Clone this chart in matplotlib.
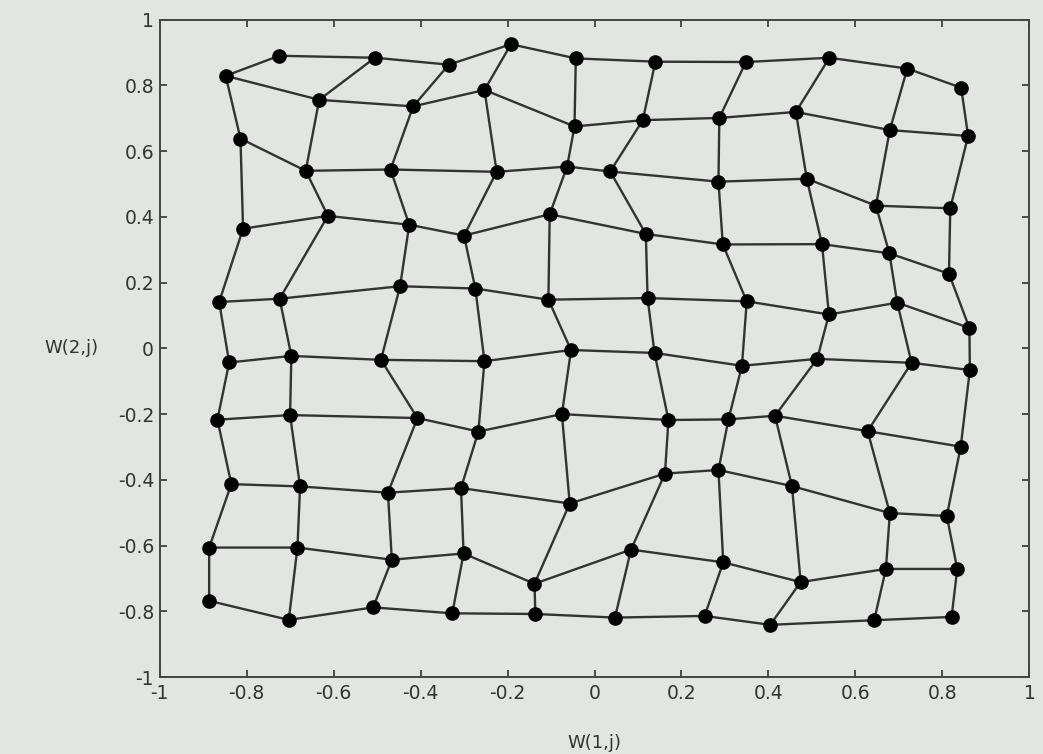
import numpy as np
import matplotlib
matplotlib.use('Agg')
import matplotlib.pyplot as plt
from matplotlib.ticker import FuncFormatter

plt.rcParams['axes.unicode_minus'] = False
plt.rcParams['font.family'] = 'DejaVu Sans'

# 10x10 SOM weight positions, one row of neurons per list
w1 = [
    [-0.725, -0.505, -0.335, -0.192, -0.043, 0.140, 0.348, 0.540, 0.719, 0.843],
    [-0.848, -0.633, -0.417, -0.253, -0.046, 0.111, 0.287, 0.463, 0.679, 0.859],
    [-0.814, -0.664, -0.469, -0.225, -0.063, 0.036, 0.285, 0.488, 0.647, 0.818],
    [-0.808, -0.613, -0.426, -0.300, -0.103, 0.118, 0.295, 0.523, 0.678, 0.815],
    [-0.863, -0.724, -0.447, -0.274, -0.106, 0.122, 0.350, 0.539, 0.696, 0.862],
    [-0.840, -0.697, -0.491, -0.253, -0.054, 0.138, 0.339, 0.512, 0.729, 0.863],
    [-0.867, -0.700, -0.407, -0.267, -0.075, 0.170, 0.308, 0.415, 0.628, 0.842],
    [-0.835, -0.677, -0.475, -0.307, -0.057, 0.162, 0.285, 0.454, 0.679, 0.810],
    [-0.886, -0.683, -0.466, -0.301, -0.138, 0.084, 0.296, 0.474, 0.670, 0.834],
    [-0.886, -0.703, -0.509, -0.327, -0.136, 0.047, 0.253, 0.404, 0.643, 0.821],
]
w2 = [
    [0.890, 0.884, 0.863, 0.925, 0.882, 0.872, 0.871, 0.884, 0.851, 0.793],
    [0.829, 0.756, 0.736, 0.786, 0.675, 0.694, 0.701, 0.719, 0.664, 0.646],
    [0.638, 0.540, 0.544, 0.537, 0.553, 0.538, 0.507, 0.516, 0.434, 0.426],
    [0.364, 0.403, 0.376, 0.343, 0.408, 0.348, 0.316, 0.317, 0.289, 0.227],
    [0.141, 0.151, 0.189, 0.182, 0.148, 0.153, 0.143, 0.103, 0.139, 0.062],
    [-0.043, -0.023, -0.035, -0.039, -0.005, -0.014, -0.053, -0.032, -0.044, -0.066],
    [-0.217, -0.203, -0.212, -0.253, -0.200, -0.218, -0.216, -0.205, -0.252, -0.299],
    [-0.413, -0.420, -0.439, -0.425, -0.472, -0.381, -0.370, -0.419, -0.501, -0.510],
    [-0.606, -0.606, -0.643, -0.624, -0.716, -0.612, -0.651, -0.711, -0.671, -0.671],
    [-0.768, -0.826, -0.788, -0.806, -0.808, -0.819, -0.814, -0.841, -0.827, -0.817],
]
ticks = [-1, -0.8, -0.6, -0.4, -0.2, 0, 0.2, 0.4, 0.6, 0.8, 1]

W1 = np.array(w1)
W2 = np.array(w2)

paper = '#e2e5e1'
fig = plt.figure(figsize=(10.43, 7.54), dpi=100, facecolor=paper)
ax = fig.add_axes([0.153, 0.102, 0.834, 0.872], facecolor=paper)

# grid links: along rows, then along columns
for i in range(W1.shape[0]):
    ax.plot(W1[i, :], W2[i, :], color='#333333', lw=1.7, zorder=2)
for j in range(W1.shape[1]):
    ax.plot(W1[:, j], W2[:, j], color='#333333', lw=1.7, zorder=2)
ax.plot(W1.ravel(), W2.ravel(), 'o', color='black', ms=9.5, zorder=3)

ax.set_xlim(-1, 1)
ax.set_ylim(-1, 1)
ax.set_xticks(ticks)
ax.set_yticks(ticks)
fmt = FuncFormatter(lambda v, p: '%g' % round(v, 1))
ax.xaxis.set_major_formatter(fmt)
ax.yaxis.set_major_formatter(fmt)
ax.tick_params(direction='in', top=True, right=True, length=5, width=1.2,
               colors='#333333', labelsize=13.5)
ax.tick_params(axis='x', pad=5)
ax.tick_params(axis='y', pad=4)
for s in ax.spines.values():
    s.set_color('#444444')
    s.set_linewidth(1.4)

ax.set_xlabel('W(1,j)', fontsize=13, color='#333333', labelpad=22)
ax.set_ylabel('W(2,j)', fontsize=13, color='#333333', rotation=0,
              va='center', ha='right')
ax.yaxis.set_label_coords(-0.07, 0.5)

fig.savefig('out.png', dpi=100, facecolor=paper)
